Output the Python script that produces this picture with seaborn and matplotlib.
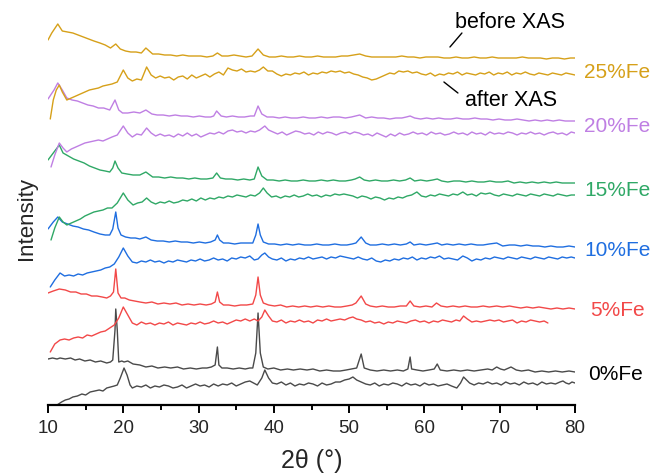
import matplotlib
matplotlib.use("Agg")
import matplotlib.pyplot as plt
from matplotlib import font_manager
import seaborn as sns
import pandas as pd

# ---------------- data (2theta in degrees, stacked intensity in a.u.) ----------------
samples = ["0%Fe", "5%Fe", "10%Fe", "15%Fe", "20%Fe", "25%Fe"]

x_0_before = [10.0,10.6,11.2,11.6,12.3,13.0,13.6,14.2,14.9,15.6,
              16.3,17.0,17.8,18.3,18.6,18.9,19.0,19.2,19.4,19.8,
              20.1,20.6,21.3,22.2,23.0,23.8,24.6,25.5,26.3,27.2,
              28.0,28.9,29.7,30.5,31.1,31.7,32.2,32.5,32.7,33.1,
              33.8,34.6,35.4,36.2,36.8,37.2,37.6,37.9,38.2,38.6,
              39.2,40.0,40.9,41.8,42.6,43.5,44.4,45.2,46.1,47.0,
              47.9,48.8,49.6,50.3,51.0,51.6,52.0,52.8,53.7,54.6,
              55.5,56.4,57.2,57.8,58.1,58.3,59.0,59.8,60.6,61.3,
              61.7,62.1,63.0,63.9,64.8,65.7,66.6,67.5,68.4,69.0,
              69.6,70.1,70.6,71.5,72.2,72.9,73.8,74.7,75.6,76.5,
              77.4,78.3,79.2,80.0]
y_0_before = [46,47,46,47,46,47,45,46,44,45,
              43,44,42,43,45,75,96,75,43,44,
              43,44,41,40,38,39,37,38,37,38,
              36,37,36,37,37,38,40,58,40,37,
              37,36,37,36,37,37,52,92,52,38,
              36,37,35,36,35,36,35,36,34,35,
              34,34,35,36,37,51,37,35,34,35,
              34,35,34,36,48,36,35,34,35,36,
              41,35,34,35,34,35,34,35,36,35,
              38,36,35,38,35,34,35,33,34,33,
              34,33,34,33]
x_0_after = [11.2,11.8,12.3,12.8,13.3,13.9,14.5,15.0,15.6,16.2,
             16.8,17.3,17.8,18.3,18.8,19.2,19.6,20.1,20.5,20.9,
             21.2,21.8,22.4,23.0,23.6,24.2,24.8,25.4,26.0,26.6,
             27.2,27.8,28.4,29.0,29.6,30.2,30.8,31.4,32.0,32.6,
             33.2,33.8,34.4,35.0,35.6,36.2,36.8,37.3,37.8,38.4,
             38.8,39.3,39.8,40.4,41.0,41.6,42.2,42.8,43.4,44.0,
             44.6,45.2,45.8,46.4,47.0,47.6,48.2,48.8,49.4,50.0,
             50.5,51.0,51.6,52.2,52.8,53.4,54.0,54.6,55.2,55.8,
             56.4,57.0,57.6,58.2,58.8,59.4,60.0,60.6,61.2,61.8,
             62.4,63.0,63.6,64.3,64.8,65.2,65.6,66.0,66.6,67.2,
             67.8,68.4,69.0,69.6,70.2,70.8,71.4,72.0,72.6,73.2,
             73.8,74.4,75.0,75.6,76.2,76.8,77.4,78.0,78.4,78.8,
             79.2,79.6,80.0]
y_0_after = [0,3,5,6,8,9,11,10,13,14,
             15,14,17,18,19,20,27,37,30,20,
             17,19,18,20,17,19,18,20,19,17,
             18,20,17,19,21,19,20,18,21,19,
             21,20,22,19,21,23,24,22,20,27,
             35,27,22,21,23,20,22,19,21,20,
             22,21,19,22,20,21,23,23,25,26,
             28,25,23,21,20,22,19,21,20,22,
             21,19,22,20,21,19,22,20,21,19,
             20,21,19,17,22,28,25,22,20,22,
             21,23,21,22,20,23,21,22,20,23,
             21,22,20,23,21,22,21,23,24,22,
             21,23,22]

x_5_before = [10.0,10.7,11.5,12.3,13.0,13.7,14.4,15.1,15.8,16.5,
              17.2,17.8,18.3,18.7,19.0,19.3,19.7,20.2,20.8,21.5,
              22.2,23.0,23.8,24.6,25.4,26.2,27.0,27.8,28.6,29.4,
              30.2,31.0,31.7,32.2,32.5,32.8,33.3,34.0,34.8,35.6,
              36.4,37.2,37.6,37.9,38.2,38.6,39.3,40.1,40.9,41.7,
              42.5,43.3,44.1,44.9,45.7,46.5,47.3,48.1,48.9,49.7,
              50.4,50.9,51.6,52.2,52.8,53.6,54.4,55.2,56.0,56.8,
              57.6,58.1,58.6,59.4,60.2,61.0,61.6,62.2,63.0,63.8,
              64.6,65.4,66.2,67.0,67.8,68.6,69.6,70.4,71.3,72.0,
              72.8,73.6,74.4,75.2,76.0,76.8,77.6,78.4,79.2,80.0]
y_5_before = [112,114,116,115,113,113,111,111,109,109,
              108,107,109,113,136,112,107,107,105,104,
              103,102,103,101,102,101,102,100,101,100,
              101,100,101,103,113,103,100,100,99,100,
              100,101,110,128,110,102,100,99,100,98,
              99,98,99,98,99,98,99,98,98,99,
              100,102,109,101,99,98,99,98,98,99,
              99,104,99,98,99,98,102,99,98,99,
              98,99,98,98,99,98,99,98,99,98,
              97,98,97,98,97,96,97,96,97,96]
x_5_after = [10.3,10.9,11.6,12.2,12.8,13.4,14.0,14.6,15.2,15.8,
             16.4,17.0,17.6,18.2,18.8,19.4,20.0,20.6,21.2,21.8,
             22.4,23.0,23.6,24.2,24.8,25.4,26.0,26.6,27.2,27.8,
             28.4,29.0,29.6,30.2,30.8,31.4,32.0,32.6,33.2,33.8,
             34.4,35.0,35.6,36.2,36.8,37.4,37.9,38.4,38.8,39.3,
             39.8,40.4,41.0,41.6,42.2,42.8,43.4,44.0,44.6,45.2,
             45.8,46.4,47.0,47.6,48.2,48.8,49.4,50.0,50.5,51.0,
             51.6,52.2,52.8,53.4,54.0,54.6,55.2,55.8,56.4,57.0,
             57.6,58.2,58.8,59.4,60.0,60.6,61.2,61.8,62.4,63.0,
             63.6,64.2,64.7,65.2,65.7,66.3,66.9,67.5,68.1,68.7,
             69.3,69.9,70.5,71.1,71.7,72.3,72.9,73.5,74.1,74.7,
             75.3,75.9,76.4]
y_5_after = [53,61,65,66,65,67,68,67,70,69,
             71,73,74,77,80,87,98,90,82,80,
             83,81,82,80,82,81,83,80,82,81,
             80,82,81,83,81,82,84,82,83,81,
             83,85,84,86,84,86,84,88,95,89,
             84,83,85,82,84,83,85,83,84,82,
             85,84,86,84,85,86,85,87,88,86,
             85,83,84,82,83,81,83,82,84,83,
             82,84,85,83,84,82,84,83,85,84,
             83,85,84,89,86,83,84,83,84,85,
             84,85,83,84,85,82,84,83,85,84,
             83,84,82]

x_10_before = [10.0,10.7,11.3,11.9,12.6,13.3,14.0,14.7,15.4,16.1,
               16.9,17.6,18.2,18.6,19.0,19.3,19.7,20.3,21.0,21.6,
               22.2,23.0,23.7,24.5,25.3,26.1,26.9,27.7,28.5,29.3,
               30.1,30.9,31.6,32.2,32.5,32.8,33.3,34.0,34.8,35.6,
               36.4,37.2,37.6,37.9,38.2,38.6,39.3,40.1,40.9,41.7,
               42.5,43.3,44.1,44.9,45.7,46.5,47.3,48.1,48.9,49.7,
               50.4,50.9,51.6,52.2,52.8,53.6,54.4,55.2,56.0,56.8,
               57.6,58.1,58.6,59.4,60.2,61.0,61.7,62.3,63.0,63.8,
               64.6,65.4,66.2,67.0,67.8,68.6,69.6,70.4,71.3,72.0,
               72.8,73.6,74.4,75.2,76.0,76.8,77.6,78.4,79.2,80.0]
y_10_before = [176,183,188,183,181,179,178,176,175,173,
               171,170,170,176,193,177,170,168,167,167,
               166,168,165,164,164,163,164,163,163,162,
               163,162,163,165,170,165,162,162,161,162,
               162,162,170,181,170,163,161,161,160,161,
               160,161,160,160,161,160,160,161,160,160,
               161,162,168,162,160,160,161,160,161,160,
               161,163,160,161,160,161,162,160,161,160,
               161,160,161,160,160,161,162,159,160,160,
               159,160,159,159,158,159,158,158,159,158]
x_10_after = [10.3,10.9,11.6,12.2,12.8,13.4,14.0,14.6,15.2,15.8,
              16.4,17.0,17.6,18.2,18.8,19.4,20.0,20.6,21.2,21.8,
              22.4,23.0,23.6,24.2,24.8,25.4,26.0,26.6,27.2,27.8,
              28.4,29.0,29.6,30.2,30.8,31.4,32.0,32.6,33.2,33.8,
              34.4,35.0,35.6,36.2,36.8,37.4,37.9,38.4,38.8,39.3,
              39.8,40.4,41.0,41.6,42.2,42.8,43.4,44.0,44.6,45.2,
              45.8,46.4,47.0,47.6,48.2,48.8,49.4,50.0,50.6,51.2,
              51.8,52.4,53.0,53.6,54.2,54.8,55.4,56.0,56.6,57.2,
              57.8,58.4,59.0,59.6,60.2,60.8,61.4,62.0,62.6,63.2,
              63.8,64.4,65.1,65.7,66.3,66.9,67.5,68.1,68.7,69.3,
              69.9,70.5,71.1,71.7,72.3,72.9,73.5,74.1,74.7,75.3,
              75.9,76.5,77.1,77.7,78.3,78.9,79.5,80.0]
y_10_after = [118,125,132,129,130,129,131,130,132,133,
              134,135,137,138,141,148,157,149,143,142,
              144,143,145,143,144,142,144,143,145,144,
              143,145,144,146,144,145,147,145,146,144,
              147,146,148,147,149,145,146,150,152,148,
              146,145,147,144,146,145,147,146,148,146,
              147,148,146,148,147,149,148,147,146,148,
              146,145,147,144,143,145,144,146,145,147,
              146,148,145,147,146,148,147,149,146,147,
              146,145,149,147,144,146,145,147,146,148,
              147,146,148,147,146,148,147,146,148,147,
              146,148,147,146,148,147,148,147]

x_15_before = [10.0,10.8,11.5,12.0,12.7,13.4,14.1,14.8,15.5,16.2,
               16.9,17.6,18.2,18.6,18.9,19.3,19.8,20.5,21.3,22.2,
               23.0,23.9,24.7,25.5,26.3,27.1,27.9,28.7,29.5,30.3,
               31.1,31.9,32.4,32.9,33.6,34.4,35.2,36.0,36.8,37.4,
               37.9,38.4,39.1,39.9,40.7,41.5,42.3,43.1,43.9,44.7,
               45.5,46.3,47.1,47.9,48.7,49.5,50.3,50.8,51.4,52.0,
               52.7,53.5,54.3,55.1,55.9,56.7,57.5,58.1,58.7,59.5,
               60.3,61.1,61.7,62.3,63.1,63.9,64.7,65.5,66.3,67.1,
               67.9,68.7,69.5,70.3,71.1,71.9,72.7,73.5,74.3,75.1,
               75.9,76.7,77.5,78.3,79.1,80.0]
y_15_before = [245,253,260,252,249,246,244,242,239,237,
               235,234,233,237,244,237,232,231,230,230,
               233,228,228,227,228,227,227,226,227,226,
               226,227,232,227,226,226,225,226,225,226,
               238,229,225,225,224,225,224,224,225,224,
               224,225,224,225,224,224,225,226,228,225,
               224,225,224,224,225,224,225,227,224,225,
               224,225,226,224,223,224,224,223,224,223,
               223,224,223,223,224,222,223,222,223,222,
               223,222,223,222,222,222]
x_15_after = [10.4,10.9,11.5,12.0,12.5,13.1,13.7,14.3,14.9,15.5,
              16.1,16.7,17.3,17.9,18.5,19.2,20.0,20.6,21.3,21.9,
              22.5,23.1,23.7,24.3,24.9,25.5,26.1,26.7,27.3,27.9,
              28.5,29.1,29.7,30.3,30.9,31.5,32.1,32.7,33.3,33.9,
              34.5,35.1,35.7,36.3,36.9,37.5,38.1,38.6,39.1,39.7,
              40.3,40.9,41.5,42.1,42.7,43.3,43.9,44.5,45.1,45.7,
              46.3,46.9,47.5,48.1,48.7,49.3,49.9,50.5,51.1,51.7,
              52.3,52.9,53.5,54.1,54.7,55.3,55.9,56.5,57.1,57.7,
              58.3,59.0,59.6,60.2,60.8,61.4,62.0,62.6,63.2,63.8,
              64.4,65.1,65.7,66.3,66.9,67.5,68.1,68.7,69.3,69.9,
              70.5,71.1,71.7,72.3,72.9,73.5,74.1,74.7,75.3,75.9,
              76.5,77.1,77.7,78.3,78.9,79.5,80.0]
y_15_after = [165,177,188,183,180,182,184,186,189,191,
              193,194,195,197,197,202,212,205,200,202,
              203,207,203,201,203,202,204,202,203,205,
              204,206,204,207,205,207,206,208,207,209,
              208,210,209,208,210,209,212,217,212,208,
              209,207,209,208,210,208,209,211,209,210,
              208,210,209,211,210,211,210,209,207,209,
              208,206,208,207,205,207,206,208,207,209,
              210,213,209,208,210,209,211,210,209,211,
              210,213,210,211,209,212,211,212,210,209,
              211,210,209,211,210,209,211,210,209,211,
              210,209,211,210,209,210,210]

x_20_before = [10.0,10.8,11.3,11.9,12.5,13.2,13.9,14.6,15.3,16.0,
               16.7,17.4,18.2,18.9,19.4,19.9,20.6,21.4,22.2,23.0,
               23.8,24.5,25.3,26.1,26.9,27.7,28.5,29.3,30.1,30.9,
               31.6,32.0,32.4,33.0,33.7,34.5,35.3,36.1,36.9,37.4,
               37.9,38.4,39.1,39.9,40.7,41.5,42.3,43.1,43.9,44.7,
               45.5,46.3,47.1,47.9,48.7,49.5,50.3,51.4,52.2,53.0,
               53.8,54.6,55.4,56.2,57.0,57.6,58.1,58.7,59.5,60.3,
               61.1,61.9,62.7,63.5,64.3,65.1,65.9,66.7,67.5,68.3,
               69.1,69.9,70.7,71.5,72.3,73.1,73.9,74.7,75.5,76.3,
               77.1,77.9,78.7,79.5,80.0]
y_20_before = [306,315,322,315,307,305,304,302,300,299,
               297,297,295,305,295,292,292,293,292,295,
               291,290,290,289,290,289,289,288,289,288,
               288,289,294,289,288,289,288,288,289,289,
               299,291,288,288,287,288,287,287,288,287,
               287,288,287,288,288,287,288,290,287,288,
               287,287,286,287,287,288,289,287,286,287,
               286,287,286,286,287,286,286,287,286,286,
               285,286,285,285,286,285,284,285,284,285,
               284,285,284,284,284]
x_20_after = [10.4,10.9,11.5,12.0,12.5,13.1,13.7,14.3,14.9,15.5,
              16.1,16.7,17.3,17.9,18.5,19.2,20.0,20.6,21.2,21.8,
              22.4,23.1,23.7,24.3,24.9,25.5,26.1,26.7,27.3,27.9,
              28.5,29.1,29.7,30.3,30.9,31.5,32.1,32.7,33.3,33.9,
              34.5,35.1,35.7,36.3,36.9,37.5,38.1,38.8,39.3,39.9,
              40.5,41.1,41.7,42.3,42.9,43.5,44.1,44.7,45.3,45.9,
              46.5,47.1,47.7,48.3,48.9,49.5,50.1,50.7,51.3,51.9,
              52.5,53.1,53.7,54.3,54.9,55.5,56.1,56.7,57.3,57.9,
              58.5,59.1,59.7,60.3,60.9,61.5,62.1,62.7,63.3,63.9,
              64.5,65.1,65.7,66.3,66.9,67.5,68.1,68.7,69.3,69.9,
              70.5,71.1,71.7,72.3,72.9,73.5,74.1,74.7,75.3,75.9,
              76.5,77.1,77.7,78.3,78.9,79.5,80.0]
y_20_after = [238,250,262,257,253,256,258,260,262,263,
              264,265,264,266,268,270,279,272,268,271,
              270,277,272,269,271,269,270,268,271,269,
              272,269,271,268,270,272,271,273,271,274,
              275,273,274,272,274,273,275,279,275,273,
              271,273,270,272,274,273,271,272,270,273,
              271,273,272,270,272,273,271,273,272,270,
              271,269,272,270,268,271,269,272,270,271,
              273,271,272,270,273,271,272,270,271,273,
              271,272,270,273,271,272,270,273,271,272,
              271,273,272,270,272,271,273,271,272,270,
              272,273,271,272,270,273,272]

x_25_before = [10.0,10.5,11.3,11.9,12.6,13.3,14.0,14.7,15.4,16.1,
               16.9,17.6,18.3,19.0,19.6,20.3,21.0,21.7,22.4,23.0,
               23.9,24.7,25.5,26.3,27.1,27.9,28.7,29.5,30.3,31.1,
               31.9,32.5,33.1,33.9,34.7,35.5,36.3,37.1,37.9,38.6,
               39.4,40.2,41.0,41.8,42.6,43.4,44.2,45.0,45.8,46.6,
               47.4,48.2,49.0,49.8,50.6,51.4,52.2,53.0,53.8,54.6,
               55.4,56.2,57.0,57.8,58.6,59.4,60.2,61.0,61.8,62.6,
               63.4,64.2,65.0,65.8,66.6,67.4,68.2,69.0,69.8,70.6,
               71.4,72.2,73.0,73.8,74.6,75.4,76.2,77.0,77.8,78.6,
               79.4,80.0]
y_25_before = [365,372,381,374,373,372,370,368,366,364,
               362,360,357,361,356,354,353,353,352,357,
               351,351,350,350,349,350,349,349,349,348,
               349,352,349,349,350,349,348,349,356,350,
               348,348,349,348,348,349,348,348,349,348,
               348,348,349,349,350,351,349,348,348,348,
               348,348,349,348,348,347,348,348,348,347,
               347,348,347,347,348,347,347,348,347,347,
               347,347,348,347,347,347,346,347,347,346,
               347,347]
x_25_after = [10.3,10.7,11.1,11.5,11.9,12.5,13.1,13.7,14.3,14.9,
              15.5,16.1,16.7,17.3,17.9,18.5,19.2,20.0,20.6,21.2,
              21.8,22.4,23.1,23.7,24.3,24.9,25.5,26.1,26.7,27.3,
              27.9,28.5,29.1,29.7,30.3,30.9,31.5,32.1,32.7,33.3,
              33.9,34.5,35.1,35.7,36.3,36.9,37.5,38.1,38.6,39.2,
              39.8,40.4,41.0,41.6,42.2,42.8,43.4,44.0,44.6,45.2,
              45.8,46.4,47.0,47.6,48.2,48.8,49.4,50.0,50.6,51.2,
              51.8,52.4,53.0,53.6,54.2,54.8,55.4,56.0,56.6,57.2,
              57.8,58.4,59.0,59.6,60.2,60.8,61.4,62.0,62.6,63.2,
              63.8,64.4,65.0,65.6,66.2,66.8,67.4,68.0,68.6,69.2,
              69.8,70.4,71.0,71.6,72.2,72.8,73.4,74.0,74.6,75.2,
              75.8,76.4,77.0,77.6,78.2,78.8,79.4,80.0]
y_25_after = [286,305,315,320,313,305,307,309,311,313,
              315,316,317,319,320,321,323,335,327,324,
              326,325,338,330,327,329,327,328,325,328,
              329,326,330,327,329,331,328,331,333,330,
              337,335,334,336,333,334,333,335,338,334,
              334,331,329,331,330,332,331,333,330,332,
              331,333,332,334,333,334,332,333,331,330,
              328,327,325,326,328,330,332,331,334,333,
              334,332,333,331,330,332,329,331,330,332,
              331,333,330,332,331,330,332,331,333,330,
              332,331,333,330,332,331,333,331,330,332,
              331,330,332,331,330,332,331,330]

series = [
    ("0%Fe", "before XAS", x_0_before, y_0_before), ("0%Fe", "after XAS", x_0_after, y_0_after),
    ("5%Fe", "before XAS", x_5_before, y_5_before), ("5%Fe", "after XAS", x_5_after, y_5_after),
    ("10%Fe", "before XAS", x_10_before, y_10_before), ("10%Fe", "after XAS", x_10_after, y_10_after),
    ("15%Fe", "before XAS", x_15_before, y_15_before), ("15%Fe", "after XAS", x_15_after, y_15_after),
    ("20%Fe", "before XAS", x_20_before, y_20_before), ("20%Fe", "after XAS", x_20_after, y_20_after),
    ("25%Fe", "before XAS", x_25_before, y_25_before), ("25%Fe", "after XAS", x_25_after, y_25_after),
]
label_heights = [30, 94, 155, 215, 278, 333]
label_x = [81.7, 82.0, 81.2, 81.2, 81.2, 81.2]
x_ticks = [10, 20, 30, 40, 50, 60, 70, 80]

# ---------------- styling ----------------
colors = {"0%Fe": "#4a4a4a", "5%Fe": "#f24848", "10%Fe": "#1f6ee0",
          "15%Fe": "#2fa866", "20%Fe": "#bf7fe3", "25%Fe": "#d6a019"}
label_colors = dict(colors, **{"0%Fe": "#000000"})

sns.set_theme(style="white")
available = {f.name for f in font_manager.fontManager.ttflist}
narrow = "Liberation Sans Narrow" if "Liberation Sans Narrow" in available else "Liberation Sans"
plt.rcParams["font.family"] = ["Liberation Sans", "DejaVu Sans"]

rows = []
for sample, state, xs, ys in series:
    for xv, yv in zip(xs, ys):
        rows.append({"sample": sample, "state": state, "theta": xv, "I": yv, "key": sample + " " + state})
df = pd.DataFrame(rows)

fig = plt.figure(figsize=(6.52, 4.74), dpi=100)
ax = fig.add_axes([48 / 652, 69 / 474, 527 / 652, 405 / 474])

for sample, state, xs, ys in series:
    sub = df[df["key"] == sample + " " + state]
    sns.lineplot(data=sub, x="theta", y="I", ax=ax, color=colors[sample], lw=1.0,
                 estimator=None, sort=False, legend=False)

ax.set_xlim(10, 80)
ax.set_ylim(0, 405)
ax.set_xlabel("")
ax.set_ylabel("")
ax.set_yticks([])
ax.set_xticks(x_ticks)
ax.set_xticks([15, 25, 35, 45, 55, 65, 75], minor=True)
for s in ["top", "right", "left"]:
    ax.spines[s].set_visible(False)
ax.spines["bottom"].set_color("black")
ax.spines["bottom"].set_linewidth(1.6)
ax.tick_params(axis="x", which="major", direction="out", length=6, width=1.4, color="black",
               bottom=True, pad=5, labelsize=13.5)
ax.tick_params(axis="x", which="minor", direction="out", length=3.5, width=1.4, color="black", bottom=True)
for lab in ax.get_xticklabels():
    lab.set_fontfamily([narrow, "DejaVu Sans"])
ax.patch.set_alpha(0)

for sample, hx, hy in zip(samples, label_x, label_heights):
    ax.text(hx, hy, sample, color=label_colors[sample], fontsize=15, ha="left", va="center", clip_on=False)

ax.text(64.05, 383, "before XAS", fontsize=15.5, ha="left", va="center", color="black")
ax.plot([63.39, 64.98], [358, 372], color="black", lw=1.0)
ax.text(65.38, 305, "after XAS", fontsize=15.5, ha="left", va="center", color="black")
ax.plot([62.59, 64.45], [323, 312], color="black", lw=1.0)

fig.text(27 / 652, 1 - 219 / 474, "Intensity", rotation=90, fontsize=16, ha="center", va="center")
fig.text(312 / 652, 1 - 461 / 474, "2θ (°)", fontsize=18, ha="center", va="center",
         family=[narrow, "DejaVu Sans"])

fig.savefig("out.png", dpi=100)
